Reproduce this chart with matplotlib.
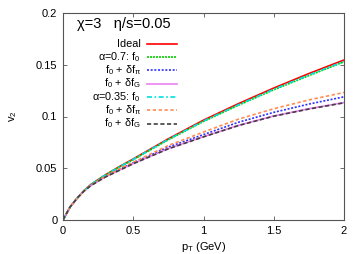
import numpy as np
import matplotlib
matplotlib.use('Agg')
import matplotlib.pyplot as plt

plt.rcParams['font.family'] = ['Liberation Sans', 'DejaVu Sans']
plt.rcParams['mathtext.fontset'] = 'custom'
plt.rcParams['mathtext.rm'] = 'Liberation Sans'
plt.rcParams['mathtext.it'] = 'Liberation Sans'

# pT grid (GeV) and v2 curves
pt = [0, 0.05, 0.1, 0.15, 0.2, 0.3, 0.4, 0.5, 0.75, 1.0, 1.25, 1.5, 1.75, 2.0]
ideal = [0, 0.0125, 0.021, 0.0285, 0.0345, 0.0435, 0.0515, 0.059, 0.0785, 0.0965, 0.1125, 0.1275, 0.1415, 0.1546]
a07_f0 = [0, 0.0125, 0.021, 0.0284, 0.0343, 0.0432, 0.051, 0.0583, 0.0775, 0.0952, 0.111, 0.1258, 0.1395, 0.1528]
a07_pi = [0, 0.0125, 0.021, 0.028, 0.0336, 0.0418, 0.0488, 0.0552, 0.0705, 0.0825, 0.0945, 0.104, 0.112, 0.119]
a07_G = [0, 0.0125, 0.021, 0.028, 0.0335, 0.0415, 0.048, 0.0545, 0.069, 0.0805, 0.0915, 0.1005, 0.1075, 0.1135]
a035_f0 = [0, 0.0125, 0.021, 0.0284, 0.0344, 0.0433, 0.0512, 0.0586, 0.0779, 0.0956, 0.1114, 0.1263, 0.1401, 0.1532]
a035_pi = [0, 0.0125, 0.021, 0.0281, 0.0338, 0.042, 0.0493, 0.0558, 0.072, 0.085, 0.0975, 0.1075, 0.116, 0.1232]
a035_G = [0, 0.0125, 0.021, 0.028, 0.0334, 0.0414, 0.0479, 0.0544, 0.0688, 0.0803, 0.0913, 0.1003, 0.1072, 0.1132]

labels = ['Ideal', r'α=0.7: f$_0$', r'f$_0$ + δf$_π$', r'f$_0$ + δf$_G$',
          r'α=0.35: f$_0$', r'f$_0$ + δf$_π$', r'f$_0$ + δf$_G$']
curves = [ideal, a07_f0, a07_pi, a07_G, a035_f0, a035_pi, a035_G]
colors = ['#ff0000', '#00d000', '#3030ff', '#ee80ee', '#00e0e0', '#ff8c50', '#404040']
styles = ['-', (0, (1.2, 0.6)), (0, (1.2, 1.0)), '-', (0, (3, 1.5, 1, 1.5)), (0, (2, 1.5)), (0, (2.5, 1.5))]

W, H = 363, 254
L, R, B, T = 63, 344, 220, 13   # axes box in pixels
fig = plt.figure(figsize=(W / 100, H / 100), dpi=100)
ax = fig.add_axes([L / W, (H - B) / H, (R - L) / W, (B - T) / H])

x = np.array(pt)
for y, c, ls in zip(curves, colors, styles):
    ax.plot(x, y, color=c, ls=ls, lw=1.2)

ax.set_xlim(0, 2)
ax.set_ylim(0, 0.2)
ax.set_xticks([0, 0.5, 1, 1.5, 2])
ax.set_xticklabels(['0', '0.5', '1', '1.5', '2'])
ax.set_yticks([0, 0.05, 0.1, 0.15, 0.2])
ax.set_yticklabels(['0', '0.05', '0.1', '0.15', '0.2'])
ax.tick_params(direction='in', top=True, right=True, labelsize=8, length=3, width=0.6, color='#555555', pad=4)
for s in ax.spines.values():
    s.set_color('#555555')
    s.set_linewidth(0.8)

ax.set_xlabel(r'p$_T$ (GeV)', fontsize=8, labelpad=3)
ax.set_ylabel(r'v$_2$', fontsize=8, labelpad=12)

def fx(px):
    return (px - L) / (R - L)

def fy(py):
    return (B - py) / (B - T)

ax.text(fx(77), fy(24), 'χ=3   η/s=0.05', transform=ax.transAxes, fontsize=10.5, va='center')

# gnuplot-style key: text right-aligned, sample line on the right
for i, (lab, c, ls) in enumerate(zip(labels, colors, styles)):
    row = 43.7 + 13.33 * i
    ax.text(fx(141), fy(row + 3.0), lab, transform=ax.transAxes, fontsize=7.8, ha='right', va='baseline')
    ax.plot([fx(147), fx(177)], [fy(row), fy(row)], transform=ax.transAxes, color=c, ls=ls, lw=1.2)

fig.savefig('out.png', dpi=100)
